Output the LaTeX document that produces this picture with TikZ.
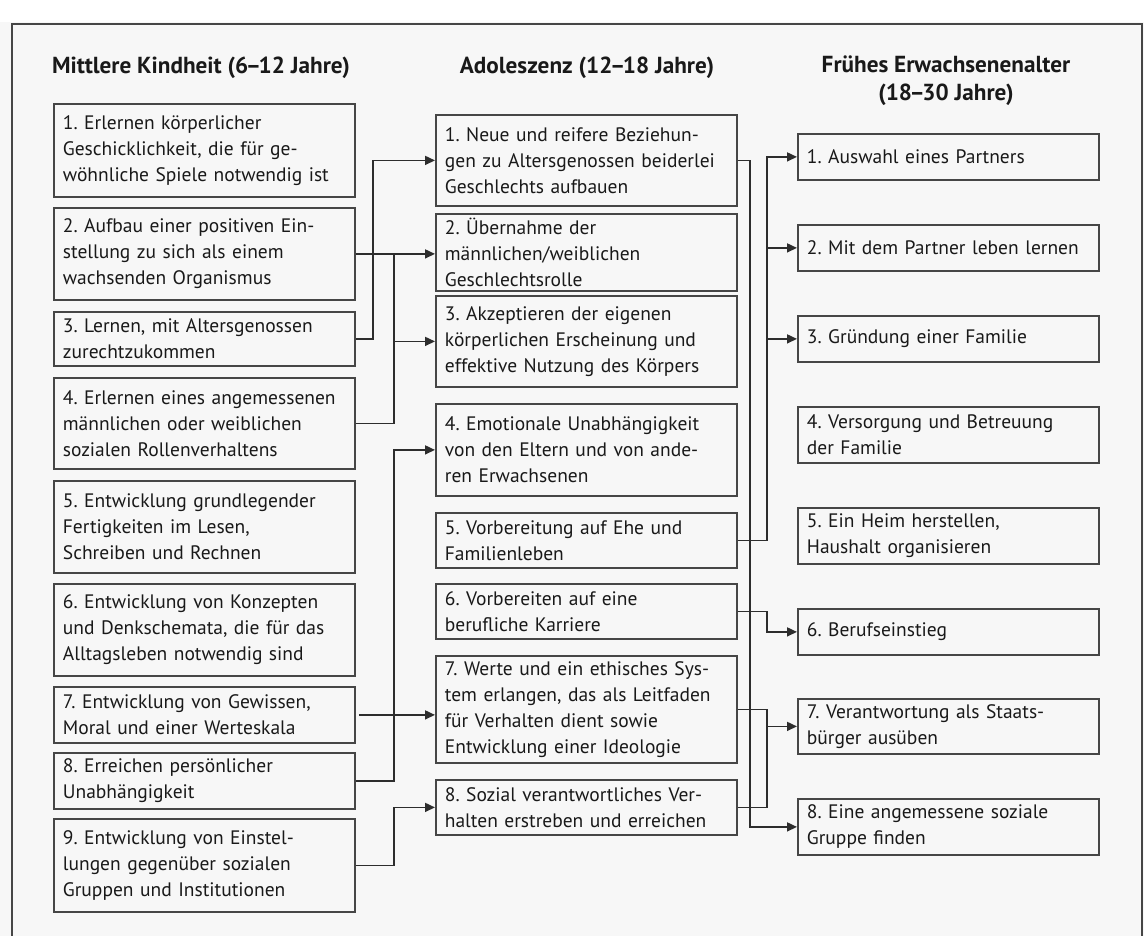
\documentclass[tikz,border=0pt]{standalone}
\usepackage{fontspec}
\setmainfont{PT Sans}
\usetikzlibrary{arrows.meta,calc}
\frenchspacing
\definecolor{bgcol}{RGB}{247,247,247}
\definecolor{boxcol}{RGB}{70,70,70}
\definecolor{linecol}{RGB}{45,45,45}
\definecolor{txtcol}{RGB}{25,25,25}
\newcommand\bodyfnt{\frenchspacing\fontsize{19.5}{26}\selectfont}
\newcommand\headfnt{\frenchspacing\fontsize{23.2}{28}\selectfont\bfseries}
\newcommand\tdash{\kern-2.5pt–\kern-2.5pt}
\tikzset{
  tbox/.style={draw=boxcol, line width=1.8pt, inner xsep=9pt, inner ysep=0pt,
    text width=283pt, align=left, anchor=north west, font=\bodyfnt, text=txtcol},
  hdr/.style={font=\headfnt, text=txtcol, align=center, inner sep=0pt},
  arr/.style={draw=linecol, line width=1.6pt, -{Triangle[length=10pt,width=9pt]}},
  conn/.style={draw=linecol, line width=1.6pt},
  frame/.style={draw=boxcol, line width=1.6pt}
}
\begin{document}
\begin{tikzpicture}[x=1pt,y=-1pt]
\fill[white] (0,0) rectangle (1144,936);
\fill[bgcol] (0,22) rectangle (1144,936);
\useasboundingbox (0,0) rectangle (1144,936);
\draw[frame] (12,937) -- (12,24) -- (1142,24) -- (1142,937);

% headers
\node[hdr, anchor=base] (h1) at (201,74) {Mittlere Kindheit (6\tdash12 Jahre)};
\node[hdr, anchor=base] (h2) at (587,74) {Adoleszenz (12\tdash18 Jahre)};
\node[hdr, anchor=north] (h3) at (946,56) {Frühes Erwachsenenalter\\(18\tdash30 Jahre)};

% column 1
\node[tbox, minimum height=93pt] (a1) at (53,103) {1. Erlernen körperlicher\\Geschicklichkeit, die für ge-\\wöhnliche Spiele notwendig ist};
\node[tbox, minimum height=92pt] (a2) at (53,207) {2. Aufbau einer positiven Ein-\\stellung zu sich als einem\\wachsenden Organismus};
\node[tbox, minimum height=54pt] (a3) at (53,311) {3. Lernen, mit Altersgenossen\\zurechtzukommen};
\node[tbox, minimum height=91pt] (a4) at (53,377) {4. Erlernen eines angemessenen\\männlichen oder weiblichen\\sozialen Rollenverhaltens};
\node[tbox, minimum height=92pt] (a5) at (53,480) {5. Entwicklung grundlegender\\Fertigkeiten im Lesen,\\Schreiben und Rechnen};
\node[tbox, minimum height=92pt] (a6) at (53,583) {6. Entwicklung von Konzepten\\und Denkschemata, die für das\\Alltagsleben notwendig sind};
\node[tbox, minimum height=56pt] (a7) at (53,686) {7. Entwicklung von Gewissen,\\Moral und einer Werteskala};
\node[tbox, minimum height=56pt] (a8) at (53,752) {8. Erreichen persönlicher\\Unabhängigkeit};
\node[tbox, minimum height=93pt] (a9) at (53,818) {9. Entwicklung von Einstel-\\lungen gegenüber sozialen\\Gruppen und Institutionen};

% column 2
\node[tbox, minimum height=91pt] (b1) at (435,114) {1. Neue und reifere Beziehun-\\gen zu Altersgenossen beiderlei\\Geschlechts aufbauen};
\node[tbox, minimum height=77pt] (b2) at (435,213) {2. Übernahme der\\männlichen/weiblichen\\Geschlechtsrolle};
\node[tbox, minimum height=91pt] (b3) at (435,295) {3. Akzeptieren der eigenen\\körperlichen Erscheinung und\\effektive Nutzung des Körpers};
\node[tbox, minimum height=92pt] (b4) at (435,403) {4. Emotionale Unabhängigkeit\\von den Eltern und von ande-\\ren Erwachsenen};
\node[tbox, minimum height=55pt] (b5) at (435,512) {5. Vorbereitung auf Ehe und\\Familienleben};
\node[tbox, minimum height=55pt] (b6) at (435,583) {6. Vorbereiten auf eine\\berufliche Karriere};
\node[tbox, minimum height=107pt] (b7) at (435,655) {7. Werte und ein ethisches Sys-\\tem erlangen, das als Leitfaden\\für Verhalten dient sowie\\Entwicklung einer Ideologie};
\node[tbox, minimum height=55pt] (b8) at (435,779) {8. Sozial verantwortliches Ver-\\halten erstreben und erreichen};

% column 3
\node[tbox, minimum height=46pt] (c1) at (797,133) {1. Auswahl eines Partners};
\node[tbox, minimum height=46pt] (c2) at (797,224) {2. Mit dem Partner leben lernen};
\node[tbox, minimum height=46pt] (c3) at (797,315) {3. Gründung einer Familie};
\node[tbox, minimum height=56pt] (c4) at (797,406) {4. Versorgung und Betreuung\\der Familie};
\node[tbox, minimum height=56pt] (c5) at (797,507) {5. Ein Heim herstellen,\\Haushalt organisieren};
\node[tbox, minimum height=46pt] (c6) at (797,608) {6. Berufseinstieg};
\node[tbox, minimum height=55pt] (c7) at (797,698) {7. Verantwortung als Staats-\\bürger ausüben};
\node[tbox, minimum height=56pt] (c8) at (797,798) {8. Eine angemessene soziale\\Gruppe finden};

% helper x positions for vertical runs
\coordinate (vl) at (373,0);
\coordinate (vm) at (394,0);
\coordinate (va) at (750,0);
\coordinate (vb) at (767,0);

% left connectors
\draw[arr] (a3.east) -- (vl |- a3.east) |- (b1.west);
\draw[arr] (a2.east) -- (b2.west |- a2.east);
\draw[conn] (a4.east) -- (vm |- a4.east) -- (vm |- a2.east);
\draw[arr] (vm |- b3.west) -- (b3.west);
\draw[arr] (a8.east) -- (vm |- a8.east) |- (b4.west);
\draw[arr] ([xshift=3pt]a7.east) -- (b7.west |- a7.east);
\draw[arr] (a9.east) -- (vm |- a9.east) |- (b8.west);

% right connectors
\draw[arr] (b1.east) -- (va |- b1.east) |- (c8.west);
\draw[arr] (b5.east) -- (vb |- b5.east) |- (c1.west);
\draw[arr] (vb |- c2.west) -- (c2.west);
\draw[arr] (vb |- c3.west) -- (c3.west);
\draw[arr] (b6.east) -- (vb |- b6.east) |- (c6.west);
\draw[conn] (b7.east) -- (vb |- b7.east) -- (vb |- b8.east) -- (b8.east);
\draw[arr] (vb |- c7.west) -- (c7.west);
\end{tikzpicture}
\end{document}
